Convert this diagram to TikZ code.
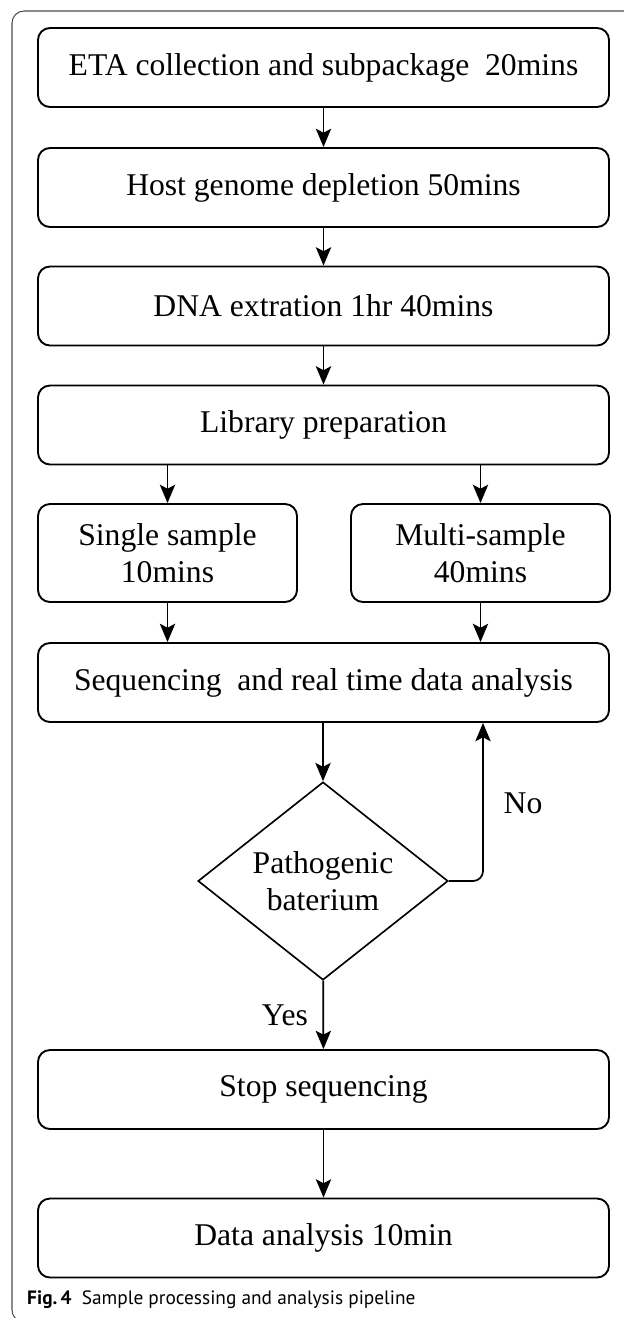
\documentclass[tikz,border=0pt]{standalone}
\usepackage{fontspec}
\setmainfont{Liberation Serif}
\newfontfamily\capfont{PT Sans}
\usetikzlibrary{shapes.geometric}
\usetikzlibrary{arrows.meta}
\tikzset{
    mybox/.style = {rectangle, rounded corners=0.36cm, line width=1.6pt, draw=black, align=center, minimum width=17.13cm, minimum height=2.37cm, inner sep=0pt, font=\fontsize{27}{32}\selectfont},
    mysplit/.style = {mybox, minimum width=7.77cm, minimum height=2.94cm},
    mydiamond/.style = {diamond, aspect=1.26, line width=1.4pt, draw=black, align=center, minimum width=7.5cm, minimum height=5.94cm, inner sep=0pt, font=\fontsize{27}{32}\selectfont},
    edgea/.style = {-{Stealth[length=0.55cm,width=0.46cm,inset=0.12cm]}, line width=1.5pt, black},
    edgel/.style = {font=\fontsize{27}{32}\selectfont, inner sep=0pt},
    myframe/.style = {line width=0.9pt, draw=black!70, rounded corners=0.36cm}
}

\begin{document}
\begin{tikzpicture}[x=0.03cm, y=-0.03cm]
\useasboundingbox (0,0) rectangle (624,1318);
\clip (0,0) rectangle (624,1318);
\draw[myframe] (12,11) rectangle (680,1322);
\node[mybox] at (323.5, 67.5) (eta) {ETA collection and subpackage\ \ 20mins};
\node[mybox] at (323.5, 187.5) (host) {Host genome depletion 50mins};
\node[mybox] at (323.5, 306) (dna) {DNA extration 1hr 40mins};
\node[mybox] at (323.5, 425) (lib) {Library preparation};
\node[mysplit] at (167.5, 553) (single) {Single sample\\10mins};
\node[mysplit] at (480.5, 553) (multi) {Multi-sample\\40mins};
\node[mybox] at (323.5, 682.5) (seq) {Sequencing\ \ and real time data analysis};
\node[mydiamond] at (323, 881) (patho) {Pathogenic\\baterium};
\node[mybox] at (323.5, 1089.5) (stop) {Stop sequencing};
\node[mybox] at (323.5, 1238) (data) {Data analysis 10min};
\node[anchor=west, inner sep=0pt, font=\capfont\fontsize{16.5}{19}\selectfont] at (27, 1300) (cap) {\textbf{Fig.\,4}\ \ Sample processing and analysis pipeline};
\draw[edgea] (eta) -- (host);
\draw[edgea] (host) -- (dna);
\draw[edgea] (dna) -- (lib);
\draw[edgea] (lib.south -| single) -- (single);
\draw[edgea] (lib.south -| multi) -- (multi);
\draw[edgea] (single) -- (seq.north -| single);
\draw[edgea] (multi) -- (seq.north -| multi);
\draw[edgea] (seq.south -| patho) -- (patho);
\draw[edgea, rounded corners=0.3cm] (patho.east) -| ([xshift=4.785cm]seq.south);
\draw[edgea] (patho) -- (stop);
\draw[edgea] (stop) -- (data);
\node[edgel] at (523, 803) (no) {No};
\node[edgel] at (285, 1015) (yes) {Yes};
\end{tikzpicture}
\end{document}
